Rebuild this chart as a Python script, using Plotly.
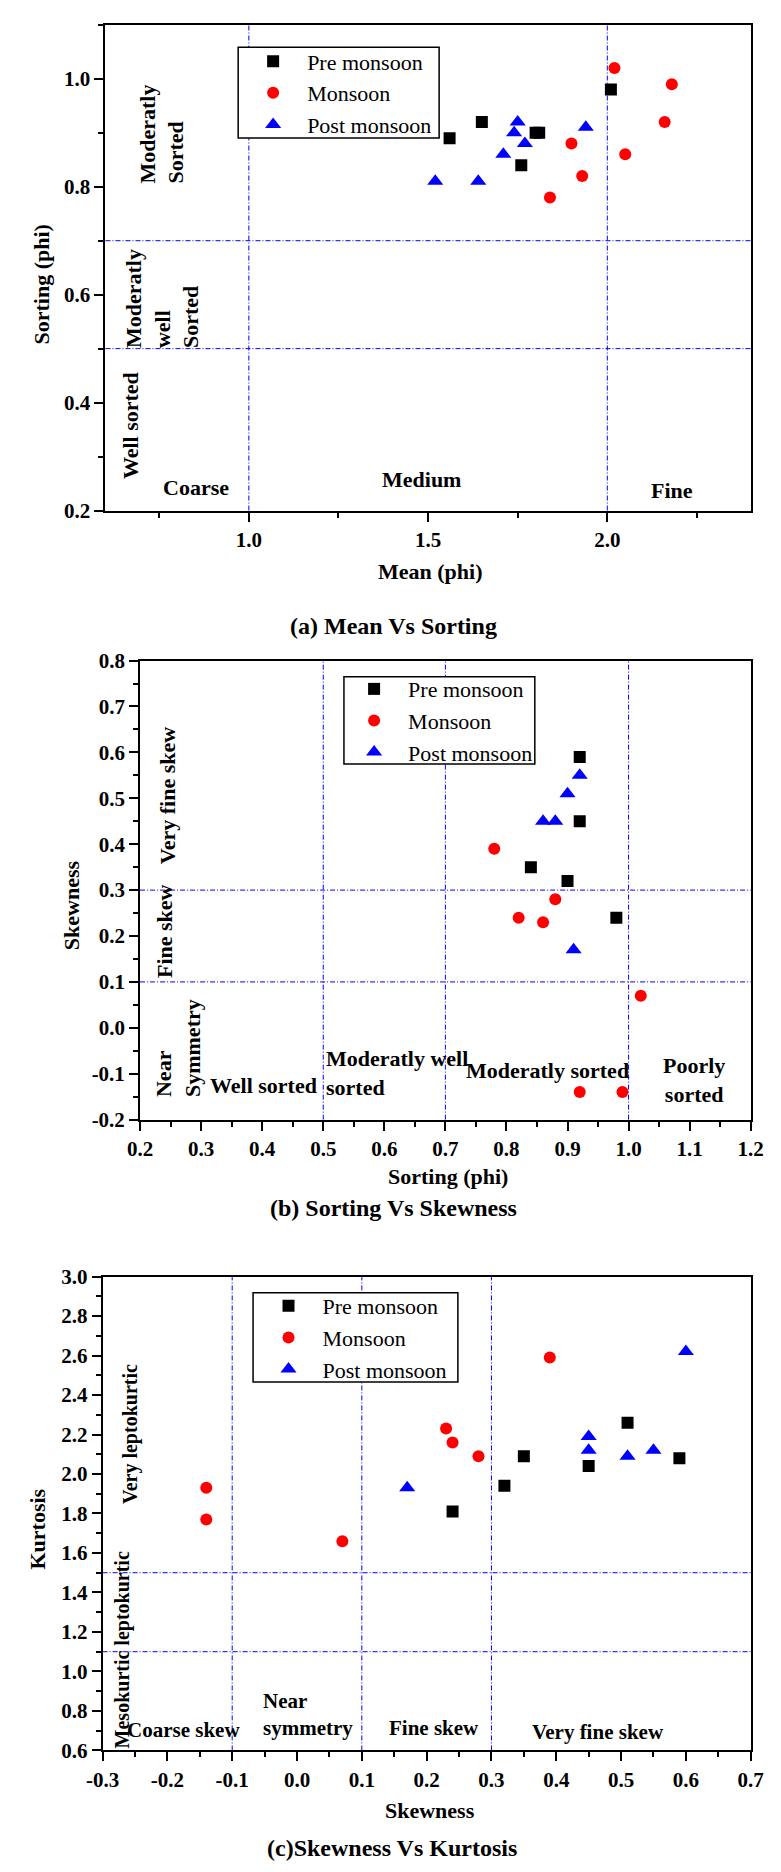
import plotly.graph_objects as go

W, H = 781, 1872
FONT = "Liberation Serif"

# ---------------- (a) Mean vs Sorting ----------------
a_pre_mean = [1.56, 1.65, 1.80, 1.81, 1.76, 2.01]
a_pre_sort = [0.89, 0.92, 0.90, 0.90, 0.84, 0.98]
a_mon_mean = [2.02, 2.18, 2.16, 2.05, 1.90, 1.93, 1.84]
a_mon_sort = [1.02, 0.99, 0.92, 0.86, 0.88, 0.82, 0.78]
a_post_mean = [1.52, 1.64, 1.71, 1.75, 1.74, 1.77, 1.94]
a_post_sort = [0.81, 0.81, 0.86, 0.92, 0.90, 0.88, 0.91]

a_xticks = [1.0, 1.5, 2.0]
a_xticklabels = ["1.0", "1.5", "2.0"]
a_yticks = [0.2, 0.4, 0.6, 0.8, 1.0]
a_yticklabels = ["0.2", "0.4", "0.6", "0.8", "1.0"]
a_vlines = [1.0, 2.0]
a_hlines = [0.5, 0.7]

# ---------------- (b) Sorting vs Skewness ----------------
b_pre_sort = [0.92, 0.92, 0.84, 0.90, 0.98]
b_pre_skew = [0.59, 0.45, 0.35, 0.32, 0.24]
b_mon_sort = [0.78, 0.82, 0.86, 0.88, 1.02, 0.92, 0.99]
b_mon_skew = [0.39, 0.24, 0.23, 0.28, 0.07, -0.14, -0.14]
b_post_sort = [0.86, 0.88, 0.90, 0.92, 0.91]
b_post_skew = [0.45, 0.45, 0.51, 0.55, 0.17]

b_xticks = [0.2, 0.3, 0.4, 0.5, 0.6, 0.7, 0.8, 0.9, 1.0, 1.1, 1.2]
b_xticklabels = ["0.2", "0.3", "0.4", "0.5", "0.6", "0.7", "0.8", "0.9", "1.0", "1.1", "1.2"]
b_yticks = [-0.2, -0.1, 0.0, 0.1, 0.2, 0.3, 0.4, 0.5, 0.6, 0.7, 0.8]
b_yticklabels = ["-0.2", "-0.1", "0.0", "0.1", "0.2", "0.3", "0.4", "0.5", "0.6", "0.7", "0.8"]
b_vlines = [0.5, 0.7, 1.0]
b_hlines = [0.1, 0.3]

# ---------------- (c) Skewness vs Kurtosis ----------------
c_pre_skew = [0.24, 0.32, 0.35, 0.45, 0.51, 0.59]
c_pre_kurt = [1.81, 1.94, 2.09, 2.04, 2.26, 2.08]
c_mon_skew = [-0.14, -0.14, 0.07, 0.23, 0.24, 0.28, 0.39]
c_mon_kurt = [1.93, 1.77, 1.66, 2.23, 2.16, 2.09, 2.59]
c_post_skew = [0.17, 0.45, 0.45, 0.51, 0.55, 0.60]
c_post_kurt = [1.93, 2.19, 2.12, 2.09, 2.12, 2.62]

c_xticks = [-0.3, -0.2, -0.1, 0.0, 0.1, 0.2, 0.3, 0.4, 0.5, 0.6, 0.7]
c_xticklabels = ["-0.3", "-0.2", "-0.1", "0.0", "0.1", "0.2", "0.3", "0.4", "0.5", "0.6", "0.7"]
c_yticks = [0.6, 0.8, 1.0, 1.2, 1.4, 1.6, 1.8, 2.0, 2.2, 2.4, 2.6, 2.8, 3.0]
c_yticklabels = ["0.6", "0.8", "1.0", "1.2", "1.4", "1.6", "1.8", "2.0", "2.2", "2.4", "2.6", "2.8", "3.0"]
c_vlines = [-0.1, 0.1, 0.3]
c_hlines = [1.1, 1.5]

series_names = ["Pre monsoon", "Monsoon", "Post monsoon"]
series_colors = ["#000000", "#ff0000", "#0000ff"]
series_symbols = ["square", "circle", "triangle-up"]
series_sizes = [12, 12, 14]

# plot-area boxes in pixels: left, right, top, bottom
boxes = {
    "a": (92, 763, 13, 505),
    "b": (128, 763, 657, 1122),
    "c": (89, 763, 1281, 1761),
}

# legend frames in pixels (left, top, right, bottom) and legend anchor (x, y)
legend_frames = {
    "legend": ((230, 35.6, 439, 127.7), (231, 28.8)),
    "legend2": ((340, 673.4, 538.5, 761.7), (336, 664.6)),
    "legend3": ((245.5, 1297.3, 458.5, 1387.7), (247, 1289.6)),
}


def px_x(p):
    return p / W


def px_y(p):
    return 1 - p / H


fig = go.Figure()

panels = [
    ("a", "x", "y", "legend",
     [(a_pre_mean, a_pre_sort), (a_mon_mean, a_mon_sort), (a_post_mean, a_post_sort)]),
    ("b", "x2", "y2", "legend2",
     [(b_pre_sort, b_pre_skew), (b_mon_sort, b_mon_skew), (b_post_sort, b_post_skew)]),
    ("c", "x3", "y3", "legend3",
     [(c_pre_skew, c_pre_kurt), (c_mon_skew, c_mon_kurt), (c_post_skew, c_post_kurt)]),
]

for key, xa, ya, leg, data in panels:
    for (xs, ys), name, col, sym, sz in zip(data, series_names, series_colors,
                                            series_symbols, series_sizes):
        fig.add_trace(go.Scatter(
            x=xs, y=ys, mode="markers", name=name, xaxis=xa, yaxis=ya, legend=leg,
            marker=dict(symbol=sym, color=col, size=sz, line=dict(width=0)),
        ))

tick_font = dict(family=FONT, size=21, color="black", weight="bold")


def axis_common(domain):
    return dict(
        domain=domain, showline=True, linewidth=2, linecolor="black", mirror=True,
        ticks="outside", ticklen=9, tickwidth=2, tickcolor="black",
        showgrid=False, zeroline=False, tickfont=tick_font, tickmode="array",
        fixedrange=True,
    )


def add_axes(n, key, xr, yr, xt, xtl, yt, ytl, xminor, yminor):
    l, r, t, b = boxes[key]
    sx = "" if n == 1 else str(n)
    xa = axis_common([px_x(l), px_x(r)])
    xa.update(range=xr, tickvals=xt, ticktext=xtl, anchor="y" + sx,
              minor=dict(dtick=xminor, tick0=0, ticks="outside", ticklen=5,
                         tickwidth=2, tickcolor="black"))
    ya = axis_common([px_y(b), px_y(t)])
    ya.update(range=yr, tickvals=yt, ticktext=ytl, anchor="x" + sx,
              minor=dict(dtick=yminor, tick0=0, ticks="outside", ticklen=5,
                         tickwidth=2, tickcolor="black"))
    fig.update_layout({"xaxis" + sx: xa, "yaxis" + sx: ya})


add_axes(1, "a", [0.6, 2.4], [0.2, 1.1], a_xticks, a_xticklabels,
         a_yticks, a_yticklabels, 0.25, 0.1)
add_axes(2, "b", [0.2, 1.2], [-0.2, 0.8], b_xticks, b_xticklabels,
         b_yticks, b_yticklabels, 0.05, 0.05)
add_axes(3, "c", [-0.3, 0.7], [0.6, 3.0], c_xticks, c_xticklabels,
         c_yticks, c_yticklabels, 0.05, 0.1)

# dash-dot class boundaries
shapes = []
for sx, vl, hl in [("", a_vlines, a_hlines), ("2", b_vlines, b_hlines), ("3", c_vlines, c_hlines)]:
    for v in vl:
        shapes.append(dict(type="line", xref="x" + sx, yref="y" + sx + " domain",
                           x0=v, x1=v, y0=0, y1=1, layer="below",
                           line=dict(color="#0000ff", width=1, dash="5px,2px,1px,2px")))
    for h in hl:
        shapes.append(dict(type="line", xref="x" + sx + " domain", yref="y" + sx,
                           x0=0, x1=1, y0=h, y1=h, layer="below",
                           line=dict(color="#0000ff", width=1, dash="5px,2px,1px,2px")))

# white framed boxes behind the legend entries
for (l, t, r, b), _ in legend_frames.values():
    shapes.append(dict(type="rect", xref="paper", yref="paper",
                       x0=px_x(l), x1=px_x(r), y0=px_y(b), y1=px_y(t), layer="above",
                       fillcolor="white", line=dict(color="black", width=1.5)))
fig.update_layout(shapes=shapes)

# region labels: (axis suffix, x, y, text, angle, align, xanchor, size)
region_labels = [
    ("", 0.758, 0.897, "Moderatly<br>Sorted", -90, "left", "center", 22),
    ("", 0.758, 0.592, "Moderatly<br>well<br>Sorted", -90, "left", "center", 22),
    ("", 0.672, 0.357, "Well sorted", -90, "left", "center", 22),
    ("", 0.852, 0.242, "Coarse", 0, "center", "center", 22),
    ("", 1.483, 0.257, "Medium", 0, "center", "center", 22),
    ("", 2.180, 0.238, "Fine", 0, "center", "center", 22),
    ("2", 0.246, 0.505, "Very fine skew", -90, "left", "center", 22),
    ("2", 0.241, 0.211, "Fine skew", -90, "left", "center", 22),
    ("2", 0.263, -0.045, "Near<br>Symmetry", -90, "left", "center", 22),
    ("2", 0.402, -0.125, "Well sorted", 0, "center", "center", 22),
    ("2", 0.502, -0.098, "Moderatly well<br>sorted", 0, "left", "left", 22),
    ("2", 0.868, -0.092, "Moderatly sorted", 0, "center", "center", 22),
    ("2", 1.107, -0.114, "Poorly<br>sorted", 0, "center", "center", 22),
    ("3", -0.258, 2.202, "Very leptokurtic", -90, "left", "center", 20),
    ("3", -0.269, 1.110, "Mesokurtic leptokurtic", -90, "left", "center", 20),
    ("3", -0.175, 0.705, "Coarse skew", 0, "center", "center", 21),
    ("3", -0.056, 0.780, "Near<br>symmetry", 0, "left", "left", 21),
    ("3", 0.212, 0.715, "Fine skew", 0, "center", "center", 21),
    ("3", 0.464, 0.695, "Very fine skew", 0, "center", "center", 21),
]

annotations = []
for sx, x, y, txt, ang, al, xan, fs in region_labels:
    annotations.append(dict(
        xref="x" + sx, yref="y" + sx, x=x, y=y, text=txt, textangle=ang, align=al,
        xanchor=xan, yanchor="middle", showarrow=False,
        font=dict(family=FONT, size=fs, color="black", weight="bold"),
    ))

# axis titles and panel captions placed in pixels: (x, y, text, angle, size)
captions = [
    (430, 567, "Mean (phi)", 0, 22),
    (25, 276, "Sorting (phi)", -90, 22),
    (392, 622, "(a) Mean Vs Sorting", 0, 24),
    (448, 1180, "Sorting (phi)", 0, 22),
    (57, 905, "Skewness", -90, 22),
    (392, 1212, "(b) Sorting Vs Skewness", 0, 24),
    (429, 1822, "Skewness", 0, 22),
    (21, 1537, "Kurtosis", -90, 22),
    (390, 1860, "(c)Skewness Vs Kurtosis", 0, 24),
]
for x, y, txt, ang, fs in captions:
    annotations.append(dict(
        xref="paper", yref="paper", x=px_x(x), y=px_y(y), text=txt, textangle=ang,
        xanchor="center", yanchor="middle", showarrow=False,
        font=dict(family=FONT, size=fs, color="black", weight="bold"),
    ))
fig.update_layout(annotations=annotations)

legend_style = dict(
    bgcolor="rgba(0,0,0,0)", borderwidth=0, itemwidth=58,
    font=dict(family=FONT, size=22, color="black"),
    xanchor="left", yanchor="top", tracegroupgap=0,
)
fig.update_layout({
    name: dict(legend_style, x=px_x(ax), y=px_y(ay))
    for name, (_, (ax, ay)) in legend_frames.items()
})

fig.update_layout(
    width=W, height=H, autosize=False,
    margin=dict(l=0, r=0, t=0, b=0, pad=0),
    paper_bgcolor="white", plot_bgcolor="white",
    showlegend=True,
    font=dict(family=FONT, color="black"),
)

fig.write_html("out.html")
